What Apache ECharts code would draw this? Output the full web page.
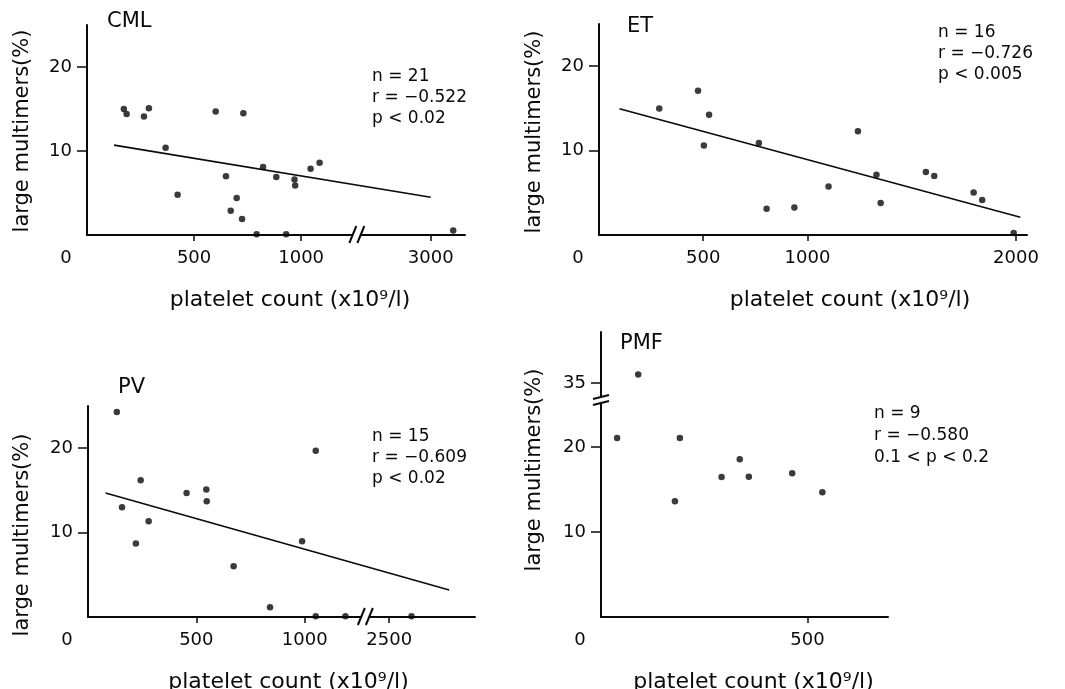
<!DOCTYPE html>
<html><head><meta charset="utf-8">
<script src="https://cdn.jsdelivr.net/npm/echarts@6/dist/echarts.min.js"></script>
<style>html,body{margin:0;padding:0;background:#fff}#c{width:1065px;height:689px}</style>
</head><body><div id="c"></div>
<script>
// ---------- data ----------
const panelTitles = ['CML', 'ET', 'PV', 'PMF'];
const xAxisTitle = 'platelet count (x10\u2079/l)';
const yAxisTitle = 'large multimers(%)';

const cmlX = [172, 185, 266, 289, 601, 730, 367, 423, 649, 699, 671, 724, 792, 822, 884, 969, 972, 930, 1044, 1086, 3105];
const cmlY = [15.0, 14.4, 14.1, 15.1, 14.7, 14.5, 10.4, 4.8, 7.0, 4.4, 2.9, 1.9, 0.1, 8.1, 6.9, 6.6, 5.9, 0.1, 7.9, 8.6, 0.55];
const cmlFitX = [126, 3000];
const cmlFitY = [10.7, 4.5];
const cmlStats = ['n = 21', 'r = \u22120.522', 'p < 0.02'];
const cmlXLabels = [0, 500, 1000, 3000];
const cmlXTicks = [500, 1000, 3000];

const etX = [289, 475, 528, 503, 767, 804, 937, 1101, 1242, 1331, 1351, 1568, 1608, 1797, 1838, 1989];
const etY = [15.0, 17.1, 14.25, 10.6, 10.9, 3.1, 3.25, 5.75, 12.3, 7.15, 3.8, 7.45, 7.0, 5.05, 4.15, 0.25];
const etFitX = [98, 2021];
const etFitY = [14.95, 2.1];
const etStats = ['n = 16', 'r = \u22120.726', 'p < 0.005'];
const etXLabels = [0, 500, 1000, 2000];
const etXTicks = [500, 1000, 2000];

const pvX = [133, 157, 243, 221, 280, 455, 546, 548, 672, 840, 988, 1051, 1051, 1188, 2603];
const pvY = [24.3, 13.0, 16.2, 8.7, 11.35, 14.7, 15.1, 13.7, 6.0, 1.15, 8.97, 19.7, 0.1, 0.1, 0.1];
const pvFitX = [81, 2777];
const pvFitY = [14.7, 3.2];
const pvStats = ['n = 15', 'r = \u22120.609', 'p < 0.02'];
const pvXLabels = [0, 500, 1000, 2500];
const pvXTicks = [500, 1000, 2500];

const pmfX = [39, 90, 191, 179, 292, 336, 358, 463, 536];
const pmfY = [21.05, 36.0, 21.05, 13.6, 16.45, 18.55, 16.5, 16.9, 14.65];
const pmfStats = ['n = 9', 'r = \u22120.580', '0.1 < p < 0.2'];
const pmfXLabels = [0, 500];
const pmfXTicks = [500];

const yLabels = [10, 20];
const pmfYLabels = [10, 20, 35];

// ---------- style ----------
const INK = '#0a0a0a';
const FONT = "'DejaVu Sans', 'Liberation Sans', Arial, sans-serif";

const grids = [
  { left: 87, top: 25, width: 378, height: 210 },
  { left: 599, top: 24, width: 428, height: 211 },
  { left: 88, top: 406, width: 387, height: 211 },
  { left: 601, top: 332, width: 287, height: 285 }
];

function xAxisCfg(gi, max, labels, ticks, brk, nameShift) {
  const a = {
    type: 'value', gridIndex: gi, min: 0, max: max,
    splitLine: { show: false },
    axisLine: { onZero: false, lineStyle: { color: INK, width: 2 } },
    axisTick: { show: true, length: 6, customValues: ticks, lineStyle: { color: INK, width: 1.5 } },
    axisLabel: {
      customValues: labels, margin: 14, color: INK, fontSize: 18, fontFamily: FONT,
      formatter: v => v === 0 ? '{z|0}' : String(v),
      rich: { z: { fontSize: 18, fontFamily: FONT, color: INK, padding: [0, 42, 0, 0] } }
    },
    name: xAxisTitle, nameLocation: 'middle', nameGap: 54,
    nameTextStyle: { color: INK, fontSize: 22, fontFamily: FONT, padding: [0, 0, 0, nameShift * 2] }
  };
  if (brk) { a.breaks = [brk]; a.breakArea = { show: false }; }
  return a;
}
function yAxisCfg(gi, max, labels, brk) {
  const a = {
    type: 'value', gridIndex: gi, min: 0, max: max,
    splitLine: { show: false },
    axisLine: { onZero: false, lineStyle: { color: INK, width: 2 } },
    axisTick: { show: true, length: 10, customValues: labels, lineStyle: { color: INK, width: 1.5 } },
    axisLabel: { customValues: labels, margin: 15, color: INK, fontSize: 18, fontFamily: FONT }
  };
  if (brk) { a.breaks = [brk]; a.breakArea = { show: false }; }
  return a;
}
const zip = (xs, ys) => xs.map((x, i) => [x, ys[i]]);
function scatter(i, xs, ys) {
  return { type: 'scatter', xAxisIndex: i, yAxisIndex: i, data: zip(xs, ys),
    symbolSize: 6.5, itemStyle: { color: INK }, silent: true };
}
function fit(i, xs, ys) {
  return { type: 'line', xAxisIndex: i, yAxisIndex: i, data: zip(xs, ys),
    showSymbol: false, lineStyle: { color: INK, width: 1.6 }, silent: true };
}
function txt(x, y, lines, size, lh) {
  return { type: 'text', x: x, y: y, silent: true,
    style: { text: lines.join('\n'), fill: INK, font: size + 'px ' + FONT, lineHeight: lh, verticalAlign: 'top' } };
}
function yTitle(cx, cy) {
  return { type: 'text', x: cx, y: cy, rotation: Math.PI / 2, silent: true,
    style: { text: yAxisTitle, fill: INK, font: '21px ' + FONT, align: 'center', verticalAlign: 'middle' } };
}

const chart = echarts.init(document.getElementById('c'), null, { renderer: 'canvas' });
const option = {
  animation: false,
  backgroundColor: '#fff',
  grid: grids.map(g => Object.assign({ containLabel: false, outerBoundsMode: 'none' }, g)),
  xAxis: [
    xAxisCfg(0, 3160, cmlXLabels, cmlXTicks, { start: 1260, end: 2655, gap: 0 }, 14),
    xAxisCfg(1, 2053, etXLabels, etXTicks, null, 37),
    xAxisCfg(2, 2896, pvXLabels, pvXTicks, { start: 1280, end: 2390, gap: 0 }, 7),
    xAxisCfg(3, 695, pmfXLabels, pmfXTicks, null, 9)
  ],
  yAxis: [
    yAxisCfg(0, 25, yLabels, null),
    yAxisCfg(1, 25, yLabels, null),
    yAxisCfg(2, 25, yLabels, null),
    yAxisCfg(3, 41, pmfYLabels, { start: 25.5, end: 33, gap: 0 })
  ],
  series: [
    scatter(0, cmlX, cmlY), fit(0, cmlFitX, cmlFitY),
    scatter(1, etX, etY), fit(1, etFitX, etFitY),
    scatter(2, pvX, pvY), fit(2, pvFitX, pvFitY),
    scatter(3, pmfX, pmfY)
  ],
  graphic: [
    txt(107, 11, [panelTitles[0]], 21, 22),
    txt(627, 16, [panelTitles[1]], 21, 22),
    txt(118, 377, [panelTitles[2]], 21, 22),
    txt(620, 333, [panelTitles[3]], 21, 22),
    txt(372, 66, cmlStats, 17, 21),
    txt(938, 22.5, etStats, 17, 21),
    txt(372, 426, pvStats, 17, 21),
    txt(874, 403, pmfStats, 17, 22),
    yTitle(23, 131),
    yTitle(535, 132),
    yTitle(23, 535),
    yTitle(535, 470)
  ]
};
chart.setOption(option);

// break marks ("//") drawn at the axis-break positions given by the scales
const extra = [];
function xBreakMark(gi, v) {
  const p = chart.convertToPixel({ gridIndex: gi }, [v, 0]);
  if (!p) return;
  const cx = p[0], cy = p[1];
  extra.push({ type: 'rect', silent: true, shape: { x: cx - 4, y: cy - 3, width: 8, height: 6 }, style: { fill: '#fff' }, z: 50 });
  [-4, 4].forEach(d => extra.push({ type: 'line', silent: true, z: 51,
    shape: { x1: cx + d - 3.5, y1: cy + 8, x2: cx + d + 3.5, y2: cy - 9 }, style: { stroke: INK, lineWidth: 2 } }));
}
function yBreakMark(gi, v) {
  const p = chart.convertToPixel({ gridIndex: gi }, [0, v]);
  if (!p) return;
  const cx = p[0], cy = p[1];
  extra.push({ type: 'rect', silent: true, shape: { x: cx - 3, y: cy - 3, width: 6, height: 6 }, style: { fill: '#fff' }, z: 50 });
  [-3, 3].forEach(d => extra.push({ type: 'line', silent: true, z: 51,
    shape: { x1: cx - 8, y1: cy + d + 2, x2: cx + 8, y2: cy + d - 2 }, style: { stroke: INK, lineWidth: 2 } }));
}
xBreakMark(0, 1260);
xBreakMark(2, 1280);
yBreakMark(3, 25.5);
chart.setOption({ graphic: option.graphic.concat(extra) });
</script>
</body></html>
